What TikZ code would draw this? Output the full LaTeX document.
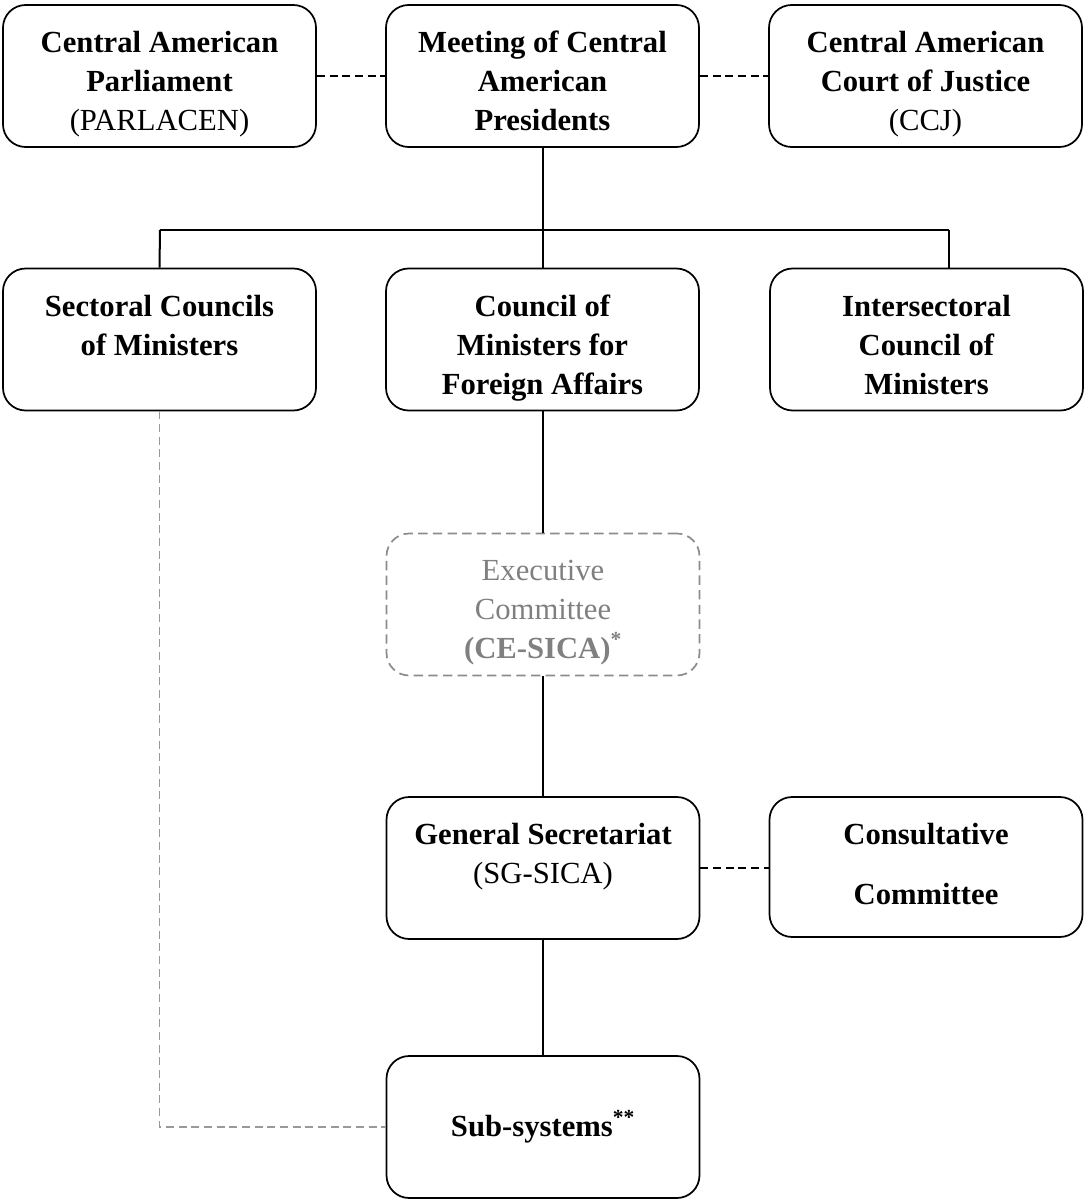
\documentclass[tikz,border=0pt]{standalone}
\usepackage{fontspec}
\setmainfont{Liberation Serif}

\tikzset{every picture/.style={line width=0.75pt}}
\tikzset{
  orgbox/.style={draw, line width=1.3pt, rounded corners=17pt, minimum width=234.75pt, minimum height=106.5pt, inner sep=0pt},
  ghostbox/.style={orgbox, draw=black!45, dash pattern=on 7pt off 4pt},
  boxtext/.style={anchor=north, align=center, inner sep=0pt, font=\fontsize{23}{29.25}\selectfont},
  link/.style={line width=1.5pt},
  dlink/.style={line width=1.2pt, dash pattern=on 6pt off 3.5pt},
  glink/.style={dlink, draw=black!40},
}

\begin{document}
\begin{tikzpicture}[x=0.75pt,y=0.75pt,yscale=-1,xscale=1]
\useasboundingbox (0,0) rectangle (1085,1202);

%Shape: Rounded Rectangles, top row
\node[orgbox] (parl) at (159.5,76) {};
\node[orgbox] (meet) at (542.5,76) {};
\node[orgbox] (ccj) at (925.5,76) {};
%Shape: Rounded Rectangles, councils
\node[orgbox] (sect) at (159.5,339.5) {};
\node[orgbox] (cfa) at (542.5,339.5) {};
\node[orgbox] (inter) at (926.5,339.5) {};
%Shape: Rounded Rectangle, dashed
\node[ghostbox] (exec) at (543,604.5) {};
%Shape: Rounded Rectangles, lower part
\node[orgbox] (gs) at (543,868) {};
\node[orgbox, minimum height=105pt] (cons) at (926,867) {};
\node[orgbox] (sub) at (543,1127) {};

%Straight Lines
\coordinate (busL) at (160,230);
\coordinate (busR) at (949,230);
\draw[link] (meet.south) -- (cfa.north);
\draw[link] (busL) -- (busR);
\draw[link] (busL) -- (sect.north);
\draw[link] (busR) -- (busR |- inter.north);
\draw[link] (cfa.south) -- (cfa.south |- exec.north);
\draw[link] (cfa.south |- exec.south) -- (cfa.south |- gs.north);
\draw[link] (cfa.south |- gs.south) -- (cfa.south |- sub.north);
%Dashed Lines
\draw[dlink] (parl.east) -- (meet.west);
\draw[dlink] (meet.east) -- (ccj.west);
\draw[dlink] (gs.east) -- (gs.east -| cons.west);
\draw[glink] (sect.south) |- (sub.west);

% Text Node
\node[boxtext] (parl-t) at ([yshift=20pt]parl.north) {\textbf{Central American}\\\textbf{Parliament}\\(PARLACEN)};
% Text Node
\node[boxtext] (meet-t) at ([yshift=20pt]meet.north) {\textbf{Meeting of Central}\\\textbf{American}\\\textbf{Presidents}};
% Text Node
\node[boxtext] (ccj-t) at ([yshift=20pt]ccj.north) {\textbf{Central American}\\\textbf{Court of Justice}\\(CCJ)};
% Text Node
\node[boxtext] (sect-t) at ([yshift=20pt]sect.north) {\textbf{Sectoral Councils}\\\textbf{of Ministers}};
% Text Node
\node[boxtext] (cfa-t) at ([yshift=20pt]cfa.north) {\textbf{Council of}\\\textbf{Ministers for}\\\textbf{Foreign Affairs}};
% Text Node
\node[boxtext] (inter-t) at ([yshift=20pt]inter.north) {\textbf{Intersectoral}\\\textbf{Council of}\\\textbf{Ministers}};
% Text Node
\node[boxtext, text=black!50] (exec-t) at ([yshift=20pt]exec.north) {Executive\\Committee\\\textbf{(CE-SICA)}\textsuperscript{\textbf{*}}};
% Text Node
\node[boxtext] (gs-t) at ([yshift=20pt]gs.north) {\textbf{General Secretariat}\\(SG-SICA)};
% Text Node
\node[boxtext] (cons-t) at ([yshift=20pt]cons.north) {\textbf{Consultative}\\[16pt]\textbf{Committee}};
% Text Node
\node[boxtext, anchor=center] (sub-t) at (sub.center) {\textbf{Sub-systems}\textsuperscript{\textbf{**}}};

\end{tikzpicture}
\end{document}
